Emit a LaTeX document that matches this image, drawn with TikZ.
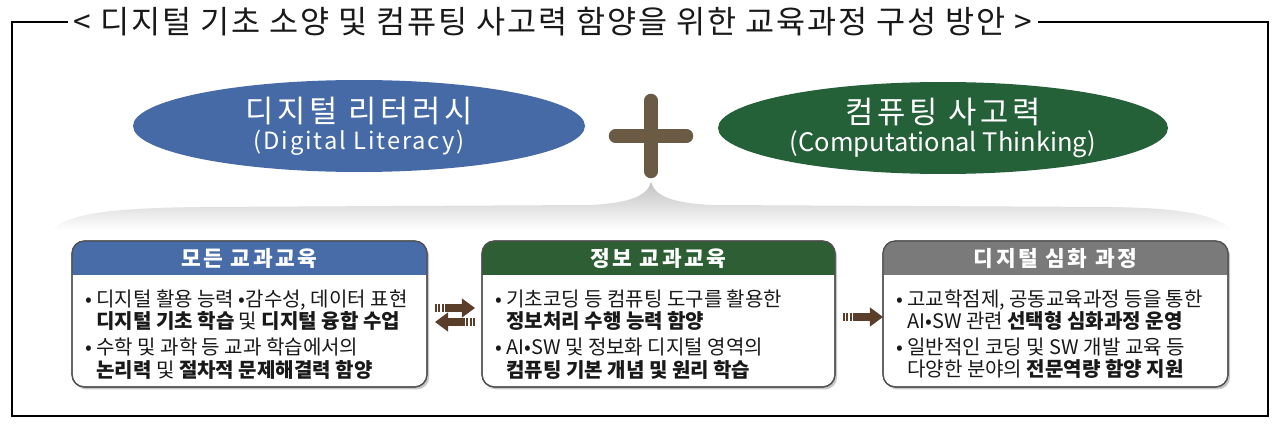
\documentclass[tikz,border=0pt]{standalone}
\usepackage{fontspec}
\setmainfont{Noto Sans CJK KR}
\newfontfamily\widefont[LetterSpace=12]{Noto Sans CJK KR}
\newfontfamily\latinwide[LetterSpace=8]{Noto Sans CJK KR}
\newfontfamily\titlefont[LetterSpace=6]{Noto Sans CJK KR}
\newcommand{\skillfont}{\widefont\fontsize{17.5}{19}\selectfont}
\usetikzlibrary{positioning}
\usetikzlibrary{arrows.meta}
\usetikzlibrary{shapes.geometric}
\usetikzlibrary{shadows}
\definecolor{DLBlue}{RGB}{69,106,166}
\definecolor{CTGreen}{RGB}{36,96,56}
\definecolor{HdrBlue}{RGB}{72,108,168}
\definecolor{HdrGreen}{RGB}{45,94,52}
\definecolor{HdrGray}{RGB}{122,122,122}
\definecolor{PlusBrown}{RGB}{107,91,69}
\definecolor{ArrowBrown}{RGB}{90,62,42}
\definecolor{BoxLine}{RGB}{80,80,80}
\definecolor{TextInk}{RGB}{25,25,25}

\begin{document}
\begin{tikzpicture}[
x=0.02cm,
y=-0.02cm,
every node/.style={text=TextInk,outer sep=0pt},
titletext/.style={font=\titlefont\fontsize{18}{20}\selectfont,inner xsep=3pt,inner ysep=0pt},
frameline/.style={draw=black,line width=0.8pt},
skillellipse/.style={ellipse,minimum width=9.04cm,minimum height=1.84cm,inner sep=0pt,align=center,text=white},
coursebox/.style={draw=BoxLine,fill=white,rounded corners=7pt,line width=0.7pt,minimum height=2.92cm,drop shadow={shadow xshift=1.2pt,shadow yshift=-1.4pt,opacity=0.45}},
headtext/.style={font=\widefont\fontsize{12.2}{14}\selectfont\bfseries,text=white,inner sep=0pt},
bodytext/.style={font=\fontsize{11.4}{12.6}\selectfont,align=left,anchor=north west,inner sep=0pt},
plusbar/.style={line width=8pt,line cap=round,draw=PlusBrown},
flowarrow/.style={-{Triangle[length=7.5pt,width=10.5pt]},line width=4.2pt,draw=ArrowBrown,dash pattern=on 1.1pt off 0.8pt on 1.1pt off 0.8pt on 1.1pt off 0.8pt on 60pt off 0pt}
]

\path[use as bounding box] (0,0) rectangle (1280,429);

\node[titletext] (title) at (553,22) {< 디지털 기초 소양 및 컴퓨팅 사고력 함양을 위한 교육과정 구성 방안 >};
\coordinate (frameSW) at (12,416);
\coordinate (frameSE) at (1268,416);
\draw[frameline] (title.west) -| (frameSW) -- (frameSE) |- (title.east);

\shade[top color=black!24,bottom color=white] (52,230) .. controls (70,212) and (120,208) .. (200,207) -- (590,205) .. controls (630,203) and (647,196) .. (651,182) .. controls (655,196) and (672,203) .. (712,205) -- (1110,207) .. controls (1180,208) and (1215,214) .. (1232,230) -- cycle;

\node[skillellipse,fill=DLBlue] (dl) at (359,126) {{\skillfont 디지털 리터러시}\\[2pt]{\latinwide\fontsize{13.5}{16}\selectfont (Digital Literacy)}};
\node[skillellipse,fill=CTGreen,minimum width=9.0cm] (ct) at (943,128) {{\skillfont 컴퓨팅 사고력}\\[2pt]{\fontsize{14.5}{16}\selectfont (Computational Thinking)}};

\coordinate (plus) at (651,136);
\begin{scope}[opacity=0.35,shift={(1.5,2.5)}]
\draw[plusbar,draw=black] ([xshift=-20pt]plus) -- ([xshift=20pt]plus);
\draw[plusbar,draw=black] ([yshift=20pt]plus) -- ([yshift=-20pt]plus);
\end{scope}
\draw[plusbar] ([xshift=-20pt]plus) -- ([xshift=20pt]plus);
\draw[plusbar] ([yshift=20pt]plus) -- ([yshift=-20pt]plus);

\node[coursebox,minimum width=7.1cm] (b1) at (249.5,314) {};
\node[coursebox,minimum width=7.06cm] (b2) at (658.5,314) {};
\node[coursebox,minimum width=6.9cm] (b3) at (1055.5,314) {};

\foreach \b/\c in {b1/HdrBlue,b2/HdrGreen,b3/HdrGray}{
  \begin{scope}
    \clip[rounded corners=7pt] (\b.south west) rectangle (\b.north east);
    \fill[\c] (\b.north west) rectangle ([yshift=-0.68cm]\b.north east);
  \end{scope}
  \draw[BoxLine,line width=0.7pt,rounded corners=7pt] (\b.south west) rectangle (\b.north east);
}

\node[headtext] (h1) at ([yshift=-0.35cm]b1.north) {모든 교과교육};
\node[headtext] (h2) at ([yshift=-0.35cm]b2.north) {정보 교과교육};
\node[headtext] (h3) at ([yshift=-0.35cm]b3.north) {디지털 심화 과정};

\node[bodytext] (t1) at ([xshift=0.26cm,yshift=-0.98cm]b1.north west) {•\ 디지털 활용 능력 •감수성, 데이터 표현\\
\phantom{•\ }\textbf{디지털 기초 학습} 및 \textbf{디지털 융합 수업}\\[2.2pt]
•\ 수학 및 과학 등 교과 학습에서의\\
\phantom{•\ }\textbf{논리력} 및 \textbf{절차적 문제해결력 함양}};
\node[bodytext] (t2) at ([xshift=0.26cm,yshift=-0.98cm]b2.north west) {•\ 기초코딩 등 컴퓨팅 도구를 활용한\\
\phantom{•\ }\textbf{정보처리 수행 능력 함양}\\[2.2pt]
•\ AI•SW 및 정보화 디지털 영역의\\
\phantom{•\ }\textbf{컴퓨팅 기본 개념 및 원리 학습}};
\node[bodytext] (t3) at ([xshift=0.26cm,yshift=-0.98cm]b3.north west) {•\ 고교학점제, 공동교육과정 등을 통한\\
\phantom{•\ }AI•SW 관련 \textbf{선택형 심화과정 운영}\\[2.2pt]
•\ 일반적인 코딩 및 SW 개발 교육 등\\
\phantom{•\ }다양한 분야의 \textbf{전문역량 함양 지원}};

\draw[flowarrow,shorten <=0.16cm,shorten >=0.14cm] ([yshift=0.12cm]b1.east) -- ([yshift=0.12cm]b2.west);
\draw[flowarrow,shorten <=0.14cm,shorten >=0.16cm] ([yshift=-0.16cm]b2.west) -- ([yshift=-0.16cm]b1.east);
\draw[flowarrow,shorten <=0.16cm] ([yshift=-0.06cm]b2.east) -- ([yshift=-0.06cm]b3.west);

\end{tikzpicture}
\end{document}
